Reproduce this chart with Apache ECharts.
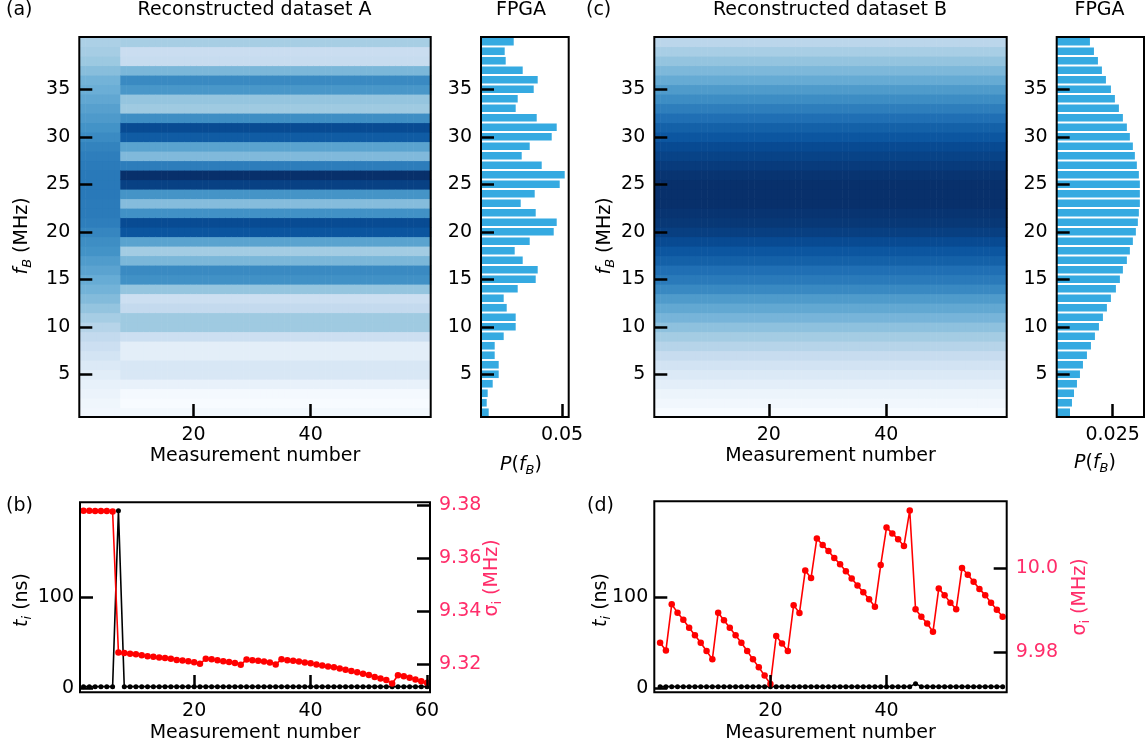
<!DOCTYPE html>
<html><head><meta charset="utf-8">
<script src="https://cdn.jsdelivr.net/npm/echarts@6/dist/echarts.min.js"></script>
<style>html,body{margin:0;padding:0;background:#fff;}#chart{width:1148px;height:747px;}</style>
</head><body><div id="chart"></div>
<script>
// ---------------- data ----------------
const measurement = [1,2,3,4,5,6,7,8,9,10,11,12,13,14,15,16,17,18,19,20,21,22,23,24,25,26,27,28,29,30,
  31,32,33,34,35,36,37,38,39,40,41,42,43,44,45,46,47,48,49,50,51,52,53,54,55,56,57,58,59,60];
const freqBins = [1,2,3,4,5,6,7,8,9,10,11,12,13,14,15,16,17,18,19,20,
  21,22,23,24,25,26,27,28,29,30,31,32,33,34,35,36,37,38,39,40];
// FPGA histogram A, P(f_B) for f_B = 1..40 MHz
const histA = [0.00475,0.00352,0.00413,0.00722,0.01092,0.01092,0.00845,0.00845,0.0140,0.0214,
  0.0214,0.01586,0.0140,0.02264,0.03375,0.03498,0.02573,0.02079,0.03005,0.04486,
  0.04671,0.03375,0.02449,0.03313,0.04856,0.05164,0.03745,0.02511,0.03005,0.04362,
  0.04671,0.03437,0.0214,0.02264,0.03252,0.03498,0.02573,0.01524,0.01462,0.02018];
// FPGA histogram B
const histB = [0.00593,0.00682,0.00772,0.00905,0.01039,0.01173,0.01351,0.0153,0.01708,0.01887,
  0.02065,0.02243,0.02422,0.02645,0.02823,0.02957,0.03135,0.03269,0.03403,0.03537,
  0.03626,0.03671,0.03715,0.03715,0.03715,0.03671,0.03581,0.03492,0.03403,0.03269,
  0.03135,0.02957,0.02779,0.026,0.02422,0.02199,0.0202,0.01842,0.01664,0.01485];
// Reconstructed dataset A, first measurements (before the jump), f_B = 1..40
const heatAEarly = [0.0049,0.0054,0.0064,0.0074,0.0088,0.0102,0.0122,0.0141,0.0160,0.0180,
  0.0204,0.0228,0.0247,0.0266,0.0281,0.0300,0.0315,0.0334,0.0343,0.0358,
  0.0372,0.0377,0.0377,0.0382,0.0382,0.0382,0.0377,0.0372,0.0363,0.0348,
  0.0334,0.0319,0.0305,0.0290,0.0276,0.0266,0.0242,0.0218,0.0204,0.0194];
const earlyMeasurementsA = 7;
// Reconstructed dataset A, later measurements: same profile as FPGA histogram A
const heatALate = histA;
// Reconstructed dataset B
const heatBProfile = histB;

const tB = [1.5,1.5,1.5,1.5,1.5,1.5,195.5,1.5,1.5,1.5,1.5,1.5,1.5,1.5,1.5,1.5,1.5,1.5,1.5,1.5,
  1.5,1.5,1.5,1.5,1.5,1.5,1.5,1.5,1.5,1.5,1.5,1.5,1.5,1.5,1.5,1.5,1.5,1.5,1.5,1.5,
  1.5,1.5,1.5,1.5,1.5,1.5,1.5,1.5,1.5,1.5,1.5,1.5,1.5,1.5,1.5,1.5,1.5,1.5,1.5,1.5];
const sigmaB = [9.3778,9.3778,9.3777,9.3777,9.3777,9.3775,9.3245,9.3243,9.3240,9.3238,
  9.3234,9.3231,9.3229,9.3226,9.3224,9.3221,9.3217,9.3215,9.3212,9.3208,
  9.3202,9.3221,9.3219,9.3216,9.3212,9.3209,9.3205,9.3199,9.3218,9.3216,
  9.3214,9.3211,9.3207,9.3200,9.3219,9.3216,9.3214,9.3211,9.3207,9.3204,
  9.3200,9.3196,9.3192,9.3189,9.3185,9.3180,9.3175,9.3170,9.3165,9.3160,
  9.3153,9.3147,9.3141,9.3128,9.3159,9.3155,9.3150,9.3143,9.3137,9.3131];
const tD = [1.5,1.5,1.5,1.5,1.5,1.5,1.5,1.5,1.5,1.5,1.5,1.5,1.5,1.5,1.5,1.5,1.5,1.5,1.5,1.5,
  1.5,1.5,1.5,1.5,1.5,1.5,1.5,1.5,1.5,1.5,1.5,1.5,1.5,1.5,1.5,1.5,1.5,1.5,1.5,1.5,
  1.5,1.5,1.5,1.5,4.8,1.5,1.5,1.5,1.5,1.5,1.5,1.5,1.5,1.5,1.5,1.5,1.5,1.5,1.5,1.5];
const sigmaD = [9.9822,9.9803,9.9914,9.9894,9.9877,9.9858,9.9840,9.9822,9.9802,9.9782,
  9.9894,9.9876,9.9858,9.9840,9.9822,9.9802,9.9782,9.9763,9.9743,9.9723,
  9.9838,9.9820,9.9802,9.9912,9.9893,9.9995,9.9977,10.0072,10.0056,10.0042,
  10.0025,10.0010,9.9993,9.9976,9.9959,9.9943,9.9926,9.9908,10.0008,10.0098,
  10.0084,10.0070,10.0054,10.0139,9.9902,9.9884,9.9868,9.9848,9.9952,9.9936,
  9.9918,9.9902,10.0001,9.9985,9.9968,9.9951,9.9936,9.9918,9.9901,9.9884];

// tick labels
const freqTicks = [5,10,15,20,25,30,35];
const measTicksA = [20,40];
const measTicksB = [20,40,60];
const measTicksD = [20,40];
const probTicksA = [0.05];   const probLabelsA = ['0.05'];
const probTicksB = [0.025];  const probLabelsB = ['0.025'];
const tTicks = [0,100];
const sigmaTicksB = [9.32,9.34,9.36,9.38]; const sigmaLabelsB = ['9.32','9.34','9.36','9.38'];
const sigmaTicksD = [9.98,10.0];           const sigmaLabelsD = ['9.98','10.0'];

// ---------------- build ----------------
const FONT = 'DejaVu Sans';
const FS = 19;
const PINK = '#ff2d6a';
const BAR = '#35aae1';
const BLUES = ['#f7fbff','#deebf7','#c6dbef','#9ecae1','#6baed6','#4292c6','#2171b5','#08519c','#08306b'];

const heatA = [];
measurement.forEach(m => freqBins.forEach((f, j) => {
  heatA.push([m, f, m <= earlyMeasurementsA ? heatAEarly[j] : heatALate[j]]);
}));
const heatB = [];
measurement.forEach(m => freqBins.forEach((f, j) => heatB.push([m, f, heatBProfile[j]])));
const histAData = freqBins.map((f, j) => [f, histA[j]]);
const histBData = freqBins.map((f, j) => [f, histB[j]]);
const allA = heatA.map(d => d[2]);
const allB = heatB.map(d => d[2]);

function labelMap(vals, labs) { const m = {}; vals.forEach((v, i) => m[String(v)] = labs[i]); return m; }

function ax(gridIndex, min, max, ticks, extra) {
  const o = {
    type: 'value', gridIndex, min, max,
    axisLine: {show: false}, splitLine: {show: false},
    axisTick: {show: true, inside: true, length: 13, lineStyle: {color: '#000', width: 2.5}, customValues: ticks},
    axisLabel: {show: true, customValues: ticks, color: '#000', fontFamily: FONT, fontSize: FS, margin: 9},
    z: 5
  };
  if (extra) {
    if (extra.label) Object.assign(o.axisLabel, extra.label);
    if (extra.position) o.position = extra.position;
  }
  return o;
}

function heatItem(params, api) {
  const x = api.value(0), y = api.value(1);
  const p0 = api.coord([x - 0.5, y + 0.5]);
  const p1 = api.coord([x + 0.5, y - 0.5]);
  return {type: 'rect', shape: {x: p0[0], y: p0[1], width: p1[0] - p0[0] + 0.6, height: p1[1] - p0[1] + 0.6},
    style: {fill: api.visual('color')}};
}
function histItem(params, api) {
  const f = api.value(0), v = api.value(1);
  const p0 = api.coord([0, f + 0.4]);
  const p1 = api.coord([v, f - 0.4]);
  return {type: 'rect', shape: {x: p0[0], y: p0[1], width: p1[0] - p0[0], height: p1[1] - p0[1]},
    style: {fill: BAR}};
}

const gridBase = {show: true, borderColor: '#000', borderWidth: 2, backgroundColor: 'transparent', z: 6, containLabel: false};
const grids = [
  Object.assign({left: 79.3, top: 37, width: 351.4, height: 380}, gridBase),
  Object.assign({left: 481, top: 37, width: 87.7, height: 380}, gridBase),
  Object.assign({left: 654.3, top: 37, width: 352.4, height: 380}, gridBase),
  Object.assign({left: 1056.7, top: 37, width: 87.3, height: 380}, gridBase),
  Object.assign({left: 80, top: 502.3, width: 350, height: 190}, gridBase),
  Object.assign({left: 654.3, top: 501.3, width: 352.4, height: 191}, gridBase)
];

const fmtB = labelMap(sigmaTicksB, sigmaLabelsB);
const fmtD = labelMap(sigmaTicksD, sigmaLabelsD);
const fmtPA = labelMap(probTicksA, probLabelsA);
const fmtPB = labelMap(probTicksB, probLabelsB);

const xAxes = [
  ax(0, 0.5, 60.5, measTicksA),
  ax(1, 0, 0.0541, probTicksA, {label: {formatter: v => fmtPA[String(v)] || ''}}),
  ax(2, 0.5, 60.5, measTicksA),
  ax(3, 0, 0.039, probTicksB, {label: {formatter: v => fmtPB[String(v)] || ''}}),
  ax(4, 0.4, 60.5, measTicksB),
  ax(5, 0, 60.7, measTicksD)
];
const yAxes = [
  ax(0, 0.5, 40.5, freqTicks),
  ax(1, 0.5, 40.5, freqTicks),
  ax(2, 0.5, 40.5, freqTicks),
  ax(3, 0.5, 40.5, freqTicks),
  ax(4, -4.7, 204.7, tTicks, {label: {margin: 6}}),
  ax(4, 9.3095, 9.3810, sigmaTicksB, {position: 'right', label: {color: PINK, formatter: v => fmtB[String(v)] || ''}}),
  ax(5, -4.7, 204.6, tTicks, {label: {margin: 6}}),
  ax(5, 9.9703, 10.0161, sigmaTicksD, {position: 'right', label: {color: PINK, formatter: v => fmtD[String(v)] || ''}})
];

const series = [
  {type: 'custom', renderItem: heatItem, xAxisIndex: 0, yAxisIndex: 0, data: heatA, encode: {x: 0, y: 1}, z: 1},
  {type: 'custom', renderItem: histItem, xAxisIndex: 1, yAxisIndex: 1, data: histAData, encode: {x: 1, y: 0}, z: 1},
  {type: 'custom', renderItem: heatItem, xAxisIndex: 2, yAxisIndex: 2, data: heatB, encode: {x: 0, y: 1}, z: 1},
  {type: 'custom', renderItem: histItem, xAxisIndex: 3, yAxisIndex: 3, data: histBData, encode: {x: 1, y: 0}, z: 1},
  {type: 'line', xAxisIndex: 4, yAxisIndex: 4, data: measurement.map((m, i) => [m, tB[i]]),
    symbol: 'circle', symbolSize: 5, itemStyle: {color: '#000'}, lineStyle: {color: '#000', width: 1.6}, z: 2},
  {type: 'line', xAxisIndex: 4, yAxisIndex: 5, data: measurement.map((m, i) => [m, sigmaB[i]]),
    symbol: 'circle', symbolSize: 6.5, itemStyle: {color: '#ff0000'}, lineStyle: {color: '#ff0000', width: 1.6}, z: 3},
  {type: 'line', xAxisIndex: 5, yAxisIndex: 6, data: measurement.map((m, i) => [m, tD[i]]),
    symbol: 'circle', symbolSize: 5, itemStyle: {color: '#000'}, lineStyle: {color: '#000', width: 1.6}, z: 2},
  {type: 'line', xAxisIndex: 5, yAxisIndex: 7, data: measurement.map((m, i) => [m, sigmaD[i]]),
    symbol: 'circle', symbolSize: 6.5, itemStyle: {color: '#ff0000'}, lineStyle: {color: '#ff0000', width: 1.6}, z: 3}
];

const visualMap = [
  {type: 'continuous', show: false, seriesIndex: 0, dimension: 2, min: Math.min(...allA), max: Math.max(...allA), inRange: {color: BLUES}},
  {type: 'continuous', show: false, seriesIndex: 2, dimension: 2, min: Math.min(...allB), max: Math.max(...allB), inRange: {color: BLUES}}
];

const txt = (x, y, text, extra) => Object.assign({type: 'text', x, y, z: 20,
  style: Object.assign({text, fill: '#000', fontFamily: FONT, fontSize: FS, align: 'center', verticalAlign: 'middle'}, extra || {})});
const richBase = {
  n: {fontFamily: FONT, fontSize: FS},
  i: {fontFamily: FONT, fontSize: FS, fontStyle: 'italic'},
  s: {fontFamily: FONT, fontSize: 13, fontStyle: 'italic', padding: [11, 0, 0, 0]},
  su: {fontFamily: FONT, fontSize: 13, padding: [11, 0, 0, 0]}
};
const rot = (x, y, text, fill) => ({type: 'text', x, y, rotation: Math.PI / 2, z: 20,
  style: {text, fill: fill || '#000', fontFamily: FONT, fontSize: FS, align: 'center', verticalAlign: 'middle',
    rich: JSON.parse(JSON.stringify(richBase))}});
Object.keys(richBase).forEach(k => {});

function richText(x, y, text, fill, rotated) {
  const rich = {};
  Object.keys(richBase).forEach(k => rich[k] = Object.assign({fill: fill}, richBase[k]));
  return {type: 'text', x, y, rotation: rotated ? Math.PI / 2 : 0, z: 20,
    style: {text, fill, fontFamily: FONT, fontSize: FS, align: 'center', verticalAlign: 'middle', rich}};
}

const graphic = [
  txt(6, 10, '(a)', {align: 'left'}),
  txt(254.5, 10, 'Reconstructed dataset A'),
  txt(521, 10, 'FPGA'),
  txt(586, 10, '(c)', {align: 'left'}),
  txt(830, 10, 'Reconstructed dataset B'),
  txt(1099.5, 10, 'FPGA'),
  richText(22, 236, '{i|f}{s|B}{n| (MHz)}', '#000', true),
  richText(605, 236, '{i|f}{s|B}{n| (MHz)}', '#000', true),
  txt(255, 456.5, 'Measurement number'),
  txt(830.5, 456.5, 'Measurement number'),
  richText(521, 465, '{i|P}{n|(}{i|f}{s|B}{n|)}', '#000', false),
  richText(1095, 463, '{i|P}{n|(}{i|f}{s|B}{n|)}', '#000', false),
  txt(6, 506, '(b)', {align: 'left'}),
  txt(587, 506, '(d)', {align: 'left'}),
  richText(22, 600, '{i|t}{s|i}{n| (ns)}', '#000', true),
  richText(601, 600, '{i|t}{s|i}{n| (ns)}', '#000', true),
  richText(492, 578, '{n|σ}{su|i}{n| (MHz)}', PINK, true),
  richText(1080, 597, '{n|σ}{su|i}{n| (MHz)}', PINK, true),
  txt(255, 733, 'Measurement number'),
  txt(830.5, 733, 'Measurement number')
];

const chart = echarts.init(document.getElementById('chart'), null, {renderer: 'canvas'});
chart.setOption({
  animation: false,
  backgroundColor: '#fff',
  textStyle: {fontFamily: FONT},
  grid: grids, xAxis: xAxes, yAxis: yAxes, series, visualMap, graphic
});
</script></body></html>
